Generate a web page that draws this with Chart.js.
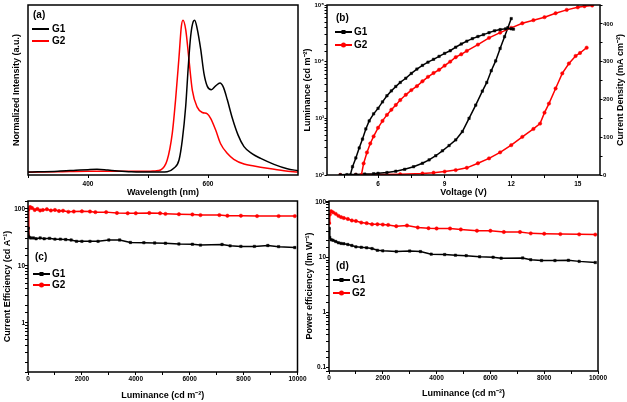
<!DOCTYPE html>
<html><head><meta charset="utf-8">
<script src="https://cdn.jsdelivr.net/npm/chart.js@4.4.1/dist/chart.umd.min.js"></script>
<style>
html,body{margin:0;padding:0;background:#fff;width:627px;height:402px;overflow:hidden;position:relative}
canvas{position:absolute;display:block}
</style></head><body>
<canvas id="ca" width="310" height="200" style="left:0;top:0"></canvas>
<canvas id="cb" width="327" height="200" style="left:300px;top:0"></canvas>
<canvas id="cc" width="310" height="207" style="left:0;top:195px"></canvas>
<canvas id="cd" width="327" height="207" style="left:300px;top:195px"></canvas>
<script>
// ---------- DATA ----------
const seriesNames = ['G1', 'G2'];

// (a) EL spectra
const wavelengthG1 = [300,350,380,400,415,433,450,472,500,520,532,543,551.7,557.2,562.8,567.2,571.1,575.6,577.8,582.2,587.8,593.3,598.9,605.6,612.8,620,625.6,632.2,640.6,650,660,673.9,687.8,710,732,750];
const intensityG1  = [0.004,0.01,0.016,0.02,0.022,0.017,0.012,0.007,0.004,0.005,0.007,0.029,0.083,0.215,0.434,0.70,0.895,0.993,1.0,0.94,0.81,0.65,0.566,0.544,0.57,0.588,0.561,0.478,0.357,0.248,0.171,0.123,0.094,0.055,0.026,0.013];
const wavelengthG2 = [300,350,400,450,500,512,521,532,540.5,546,551.7,555.6,558.3,562.8,568.3,573.9,582,590.6,598.9,604.4,612.8,621,632,643,660,676.7,699,726.7,750];
const intensityG2  = [0.003,0.006,0.01,0.009,0.009,0.012,0.018,0.083,0.26,0.48,0.76,0.96,1.0,0.94,0.74,0.54,0.43,0.395,0.386,0.357,0.28,0.19,0.127,0.088,0.057,0.044,0.029,0.013,0.004];

// (b) luminance / current density vs voltage
const voltLumG1 = [4.75,4.85,5.0,5.15,5.3,5.45,5.6,5.8,6.0,6.2,6.4,6.6,6.8,7.0,7.25,7.5,7.75,8.0,8.25,8.5,8.75,9.0,9.25,9.5,9.75,10.0,10.25,10.5,10.75,11.0,11.25,11.5,11.75,12.0,12.1];
const lumG1     = [100,140,200,300,430,650,900,1200,1500,1950,2500,3050,3650,4300,5100,6200,7400,8600,9800,11000,12400,14000,15600,18000,20500,23000,25500,27800,30000,32500,35000,36800,38000,38000,37500];
const voltLumG2 = [5.25,5.35,5.5,5.65,5.8,6.0,6.2,6.4,6.6,6.8,7.0,7.25,7.5,7.75,8.0,8.25,8.5,8.75,9.0,9.25,9.5,9.75,10.0,10.5,11.0,11.5,12.0,12.5,13.0,13.5,14.0,14.5,15.0,15.3,15.65];
const lumG2     = [100,160,250,360,480,680,900,1150,1420,1720,2100,2600,3150,3700,4500,5400,6300,7200,8500,10000,12000,13500,15500,20000,26300,32500,39500,47600,54000,61000,71500,82000,91000,95000,98000];
const voltJG1   = [4.3,4.6,5.0,5.4,5.8,6.0,6.4,6.8,7.2,7.6,8.0,8.3,8.6,8.9,9.2,9.5,9.8,10.1,10.4,10.7,10.9,11.1,11.3,11.5,11.7,11.85,12.0];
const currentG1 = [0.5,1,1.5,2.5,3.5,4.4,6.5,10,15,22,31,40,51,64,78,93,115,150,185,222,245,276,302,335,366,390,414];
const voltJG2   = [4.3,5,6,7,8,8.5,9,9.5,10,10.5,11,11.5,12,12.5,13,13.3,13.5,13.7,14,14.3,14.6,14.9,15.1,15.4];
const currentG2 = [0.3,0.5,1,2,4,6,9,13,19,31,44,60,79,101,122,136,165,189,229,269,295,315,323,337];

// (c) current efficiency vs luminance
const lumCEG1 = [10,40,100,200,300,450,600,800,1000,1200,1400,1600,1800,2000,2300,2600,3000,3400,3800,4300,4700,5100,5600,6100,6400,7200,7500,7900,8400,8900,9300,9900];
const ceG1    = [46,32,31,31,30,31,30,30.5,29.5,29.5,29,28.5,27,27,27,27,28.5,28.5,25.8,25.6,25.3,25,24.3,24,23.2,23.8,22.5,22,22,22.8,21.8,21];
const lumCEG2 = [5,30,80,150,250,350,450,550,700,850,1000,1150,1300,1500,1700,2000,2300,2500,2900,3300,3700,4000,4500,4900,5100,5600,6100,6400,7100,7400,7900,8500,9300,9900];
const ceG2    = [33,100,108,104,96,100,94,96,99,94,96,92,93,89,90,91,90,88,88,85,84,84,85,84,82,81,80,78,78,76,76,75,75,75];

// (d) power efficiency vs luminance
const lumPEG1 = [5,30,80,150,250,350,450,550,700,850,1000,1200,1400,1600,1800,2000,2500,3000,3400,3800,4300,4700,5100,5600,6100,6400,7200,7500,7900,8400,8900,9300,9900];
const peG1    = [34,23,21,20.5,19.5,18.5,18,17.8,17.2,16.5,15.6,15.3,15,14.5,13.5,13.2,12.8,13.1,12.8,11.5,11.3,11,10.8,10.3,10.1,9.7,9.8,9.1,8.8,8.8,8.9,8.5,8.1];
const lumPEG2 = [5,30,80,150,250,350,450,550,700,850,1000,1200,1400,1600,1800,2000,2200,2500,2900,3300,3700,4000,4500,4900,5500,6000,6500,7100,7500,8000,8600,9300,9900];
const peG2    = [42,60,69,66,62,57,54,52,50,47,46,43,42,40,40,39.5,39,37,38,35,34,33.6,33.5,32.3,30.6,30.5,29,29,27.4,27,26.6,26.3,26];

// ---------- HELPERS ----------
const FONT = '"Liberation Sans", Arial, Helvetica, sans-serif';
const BLACK = '#000000', RED = '#ff0000';
Chart.defaults.font.family = FONT;
Chart.defaults.color = '#000';
const pts = (xs, ys) => xs.map((x, i) => ({x, y: ys[i]}));
const fixW = w => s => { s.width = w; };
const fixH = h => s => { s.height = h; };
const isPow10 = v => { const l = Math.log10(v); return Math.abs(l - Math.round(l)) < 1e-6; };
const SUP = {'-':'⁻','0':'⁰','1':'¹','2':'²','3':'³','4':'⁴','5':'⁵','6':'⁶','7':'⁷','8':'⁸','9':'⁹'};
const supPow = v => '10' + String(Math.round(Math.log10(v))).split('').map(c => SUP[c]).join('');
const tickFont = (s) => ({size: s, weight: 'bold', family: FONT});
const titleFont = {size: 9, weight: 'bold', family: FONT};
const gridTicks = (len) => ({display: true, drawOnChartArea: false, drawTicks: true, tickLength: len, tickColor: '#000', tickWidth: 1});

function deco(cfg) {
  return {
    id: 'deco',
    afterDatasetsDraw(chart) {
      const {ctx, chartArea: a} = chart;
      ctx.save();
      ctx.strokeStyle = '#000'; ctx.lineWidth = 1.5;
      ctx.strokeRect(a.left, a.top, a.right - a.left, a.bottom - a.top);
      ctx.font = 'bold 10px ' + FONT; ctx.textBaseline = 'middle'; ctx.textAlign = 'left';
      ctx.fillStyle = '#000';
      ctx.fillText(cfg.panel, a.left + cfg.px, a.top + cfg.py);
      cfg.items.forEach(it => {
        const y = a.top + it.y, x0 = a.left + cfg.lx0, x1 = a.left + cfg.lx1;
        ctx.strokeStyle = it.color; ctx.lineWidth = cfg.lw;
        ctx.beginPath(); ctx.moveTo(x0, y); ctx.lineTo(x1, y); ctx.stroke();
        ctx.fillStyle = it.color;
        const mx = (x0 + x1) / 2;
        if (it.marker === 'rect') ctx.fillRect(mx - 2, y - 2, 4, 4);
        if (it.marker === 'circle') { ctx.beginPath(); ctx.arc(mx, y, 2.5, 0, Math.PI * 2); ctx.fill(); }
        ctx.fillStyle = '#000';
        ctx.fillText(it.text, a.left + cfg.tx, y);
      });
      if (cfg.extra) cfg.extra(chart, ctx);
      ctx.restore();
    }
  };
}
const lineDs = (label, data, color, extra) => Object.assign({
  label, data, borderColor: color, backgroundColor: color, borderWidth: 1.5,
  pointRadius: 0, fill: false
}, extra || {});

// ---------- (a) ----------
new Chart(document.getElementById('ca'), {
  type: 'line',
  data: {datasets: [
    lineDs(seriesNames[0], pts(wavelengthG1, intensityG1), BLACK, {cubicInterpolationMode: 'monotone'}),
    lineDs(seriesNames[1], pts(wavelengthG2, intensityG2), RED, {cubicInterpolationMode: 'monotone'})
  ]},
  options: {
    responsive: false, animation: false, devicePixelRatio: 1,
    layout: {padding: {top: 5, right: 12, bottom: 0, left: 0}, autoPadding: false},
    plugins: {legend: {display: false}, tooltip: {enabled: false}},
    scales: {
      x: {type: 'linear', min: 300, max: 750, afterFit: fixH(25),
        border: {display: false}, grid: gridTicks(3),
        ticks: {stepSize: 100, includeBounds: false, autoSkip: false, maxRotation: 0, padding: 2, font: tickFont(6.5),
          callback: v => (v === 400 || v === 600) ? String(v) : ''},
        title: {display: true, text: 'Wavelength (nm)', font: titleFont, padding: {top: 0, bottom: 2.1}}},
      y: {type: 'linear', min: -0.015, max: 1.1, afterFit: fixW(28),
        border: {display: false}, grid: {display: false}, ticks: {display: false},
        title: {display: true, text: 'Normalized Intensity (a.u.)', font: titleFont, padding: {top: 11.6, bottom: 0}}}
    }
  },
  plugins: [deco({panel: '(a)', px: 5, py: 10, lx0: 4, lx1: 21, tx: 24, lw: 2,
    items: [{text: seriesNames[0], color: BLACK, y: 24}, {text: seriesNames[1], color: RED, y: 36}]})]
});

// ---------- (b) ----------
const markB = (style, color) => ({pointStyle: style, pointRadius: 1.7, pointBorderWidth: 0.5,
  pointBackgroundColor: color, pointBorderColor: color, borderWidth: 1.5});
new Chart(document.getElementById('cb'), {
  type: 'line',
  data: {datasets: [
    lineDs(seriesNames[0] + ' luminance', pts(voltLumG1, lumG1), BLACK, Object.assign({yAxisID: 'y'}, markB('rect', BLACK))),
    lineDs(seriesNames[1] + ' luminance', pts(voltLumG2, lumG2), RED, Object.assign({yAxisID: 'y'}, markB('circle', RED))),
    lineDs(seriesNames[0] + ' current density', pts(voltJG1, currentG1), BLACK, Object.assign({yAxisID: 'y2'}, markB('rect', BLACK))),
    lineDs(seriesNames[1] + ' current density', pts(voltJG2, currentG2), RED, Object.assign({yAxisID: 'y2'}, markB('circle', RED)))
  ]},
  options: {
    responsive: false, animation: false, devicePixelRatio: 1,
    layout: {padding: {top: 5, right: 0, bottom: 0, left: 0}, autoPadding: false},
    plugins: {legend: {display: false}, tooltip: {enabled: false}},
    scales: {
      x: {type: 'linear', min: 3.7, max: 16, afterFit: fixH(25),
        border: {display: false}, grid: gridTicks(3),
        ticks: {stepSize: 1.5, includeBounds: false, autoSkip: false, maxRotation: 0, padding: 2, font: tickFont(6.5),
          callback: v => Math.abs(v / 3 - Math.round(v / 3)) < 1e-6 ? String(Math.round(v)) : ''},
        title: {display: true, text: 'Voltage (V)', font: titleFont, padding: {top: 0, bottom: 1.6}}},
      y: {type: 'logarithmic', position: 'left', min: 100, max: 100000, afterFit: fixW(27),
        border: {display: false}, grid: gridTicks(2.5),
        ticks: {autoSkip: false, padding: 0.5, font: tickFont(6), callback: v => isPow10(v) ? supPow(v) : ''},
        title: {display: true, text: 'Luminance (cd m⁻²)', font: titleFont, padding: {top: 2.1, bottom: 0}}},
      y2: {type: 'linear', position: 'right', min: 0, max: 450, afterFit: fixW(27),
        border: {display: false}, grid: gridTicks(2.5),
        ticks: {stepSize: 50, autoSkip: false, padding: 0.5, font: tickFont(6),
          callback: v => v % 100 === 0 ? String(v) : ''}}
    }
  },
  plugins: [deco({panel: '(b)', px: 9, py: 13, lx0: 8, lx1: 25, tx: 27, lw: 2,
    items: [{text: seriesNames[0], color: BLACK, y: 27, marker: 'rect'}, {text: seriesNames[1], color: RED, y: 40, marker: 'circle'}],
    extra: (chart, ctx) => {
      ctx.save();
      ctx.translate(321, (chart.chartArea.top + chart.chartArea.bottom) / 2);
      ctx.rotate(-Math.PI / 2);
      ctx.font = 'bold 9px ' + FONT; ctx.textAlign = 'center'; ctx.textBaseline = 'middle'; ctx.fillStyle = '#000';
      ctx.fillText('Current Density (mA cm⁻²)', 0, 0);
      ctx.restore();
    }})]
});

// ---------- (c) & (d) ----------
const markE = (style, color) => ({pointStyle: style, pointRadius: 1.7, pointBorderWidth: 0.5,
  pointBackgroundColor: color, pointBorderColor: color, borderWidth: 1.5});
const effLabel = v => isPow10(v) ? String(Number(v.toPrecision(1))) : '';
function effChart(id, g1x, g1y, g2x, g2y, ymin, ymax, padR, yw, xh, yTitle, yPad, xPad, deco_) {
  return new Chart(document.getElementById(id), {
    type: 'line',
    data: {datasets: [
      lineDs(seriesNames[0], pts(g1x, g1y), BLACK, markE('rect', BLACK)),
      lineDs(seriesNames[1], pts(g2x, g2y), RED, markE('circle', RED))
    ]},
    options: {
      responsive: false, animation: false, devicePixelRatio: 1,
      layout: {padding: {top: 6, right: padR, bottom: 0, left: 0}, autoPadding: false},
      plugins: {legend: {display: false}, tooltip: {enabled: false}},
      scales: {
        x: {type: 'linear', min: 0, max: 10000, afterFit: fixH(xh),
          border: {display: false}, grid: gridTicks(3),
          ticks: {stepSize: 1000, autoSkip: false, maxRotation: 0, padding: 0.5, font: tickFont(6.5),
            callback: v => v % 2000 === 0 ? String(v) : ''},
          title: {display: true, text: 'Luminance (cd m⁻²)', font: titleFont, padding: {top: 0, bottom: xPad}}},
        y: {type: 'logarithmic', min: ymin, max: ymax, afterFit: fixW(yw),
          border: {display: false}, grid: gridTicks(3),
          ticks: {autoSkip: false, padding: 0, font: tickFont(6.5), callback: effLabel},
          title: {display: true, text: yTitle, font: titleFont, padding: {top: yPad, bottom: 0}}}
      }
    },
    plugins: [deco_]
  });
}
effChart('cc', lumCEG1, ceG1, lumCEG2, ceG2, 0.137, 138, 12.5, 28, 30, 'Current Efficiency (cd A⁻¹)', 2.6, 1.1,
  deco({panel: '(c)', px: 7, py: 56, lx0: 5, lx1: 22, tx: 24, lw: 2,
    items: [{text: seriesNames[0], color: BLACK, y: 73, marker: 'rect'}, {text: seriesNames[1], color: RED, y: 84, marker: 'circle'}]}));
effChart('cd', lumPEG1, peG1, lumPEG2, peG2, 0.087, 106, 29, 29, 31, 'Power efficiency (lm W⁻¹)', 4.1, 2.6,
  deco({panel: '(d)', px: 7, py: 65, lx0: 4, lx1: 21, tx: 23, lw: 2,
    items: [{text: seriesNames[0], color: BLACK, y: 79, marker: 'rect'}, {text: seriesNames[1], color: RED, y: 92, marker: 'circle'}]}));
</script>
</body></html>
